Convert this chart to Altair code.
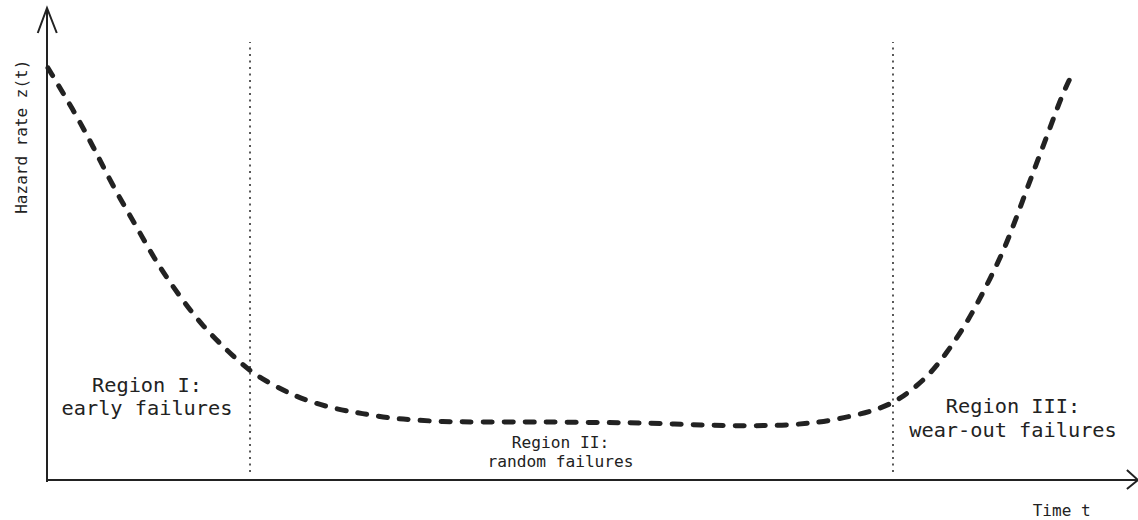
import altair as alt
import pandas as pd

# Bathtub curve: time t (0-100) vs hazard rate z(t) (0-100)
curve_t = [0.09, 2.42, 4.26, 6.07, 8.24, 10.08, 12.22, 14.34, 16.52, 18.66, 20.77,
           22.61, 24.45, 26.63, 28.46, 30.30, 32.14, 33.98, 36.12, 39.80, 43.75, 47.43,
           51.75, 54.50, 58.46, 62.13, 66.15, 68.29, 70.13, 71.97, 74.08, 75.92, 77.76,
           79.32, 81.16, 82.69, 84.19, 85.45, 86.67, 87.87, 88.79, 89.71, 90.63, 91.54,
           92.46, 93.38, 94.27]
curve_z = [87.29, 78.39, 70.61, 62.14, 53.66, 45.97, 38.83, 32.48, 27.54, 22.94, 20.13,
           18.01, 16.38, 15.04, 14.26, 13.56, 12.99, 12.71, 12.35, 12.29, 12.29, 12.29,
           12.14, 12.14, 11.80, 11.50, 11.50, 11.65, 12.08, 12.56, 13.62, 14.62, 16.31,
           18.71, 22.40, 26.91, 32.00, 37.08, 42.60, 48.30, 53.67, 59.40, 65.10, 70.61,
           76.27, 81.99, 86.20]

# Region boundaries (dotted verticals)
boundary_t = [18.66, 77.76]
boundary_z_low = [1.69, 1.69]
boundary_z_high = [92.8, 92.8]

# Axis lines with arrow heads
yaxis_t = [0.0, 0.0]
yaxis_z = [-0.4, 100.0]
xaxis_t = [0.0, 100.28]
xaxis_z = [0.0, 0.0]
yarrow_t = [-0.85, 0.0, 0.9]
yarrow_z = [94.7, 100.0, 94.7]
xarrow_t = [99.26, 100.28, 99.26]
xarrow_z = [2.12, 0.0, -1.9]

# Region labels
big_text = ["Region I:", "early failures", "Region III:", "wear-out failures"]
big_t = [9.19, 9.19, 88.79, 88.79]
big_z = [18.7, 13.77, 14.13, 9.05]
small_text = ["Region II:", "random failures"]
small_t = [47.2, 47.2]
small_z = [6.72, 2.82]

FONT = "DejaVu Sans Mono"
INK = "#222222"

xs = alt.Scale(domain=[-4.32, 100.28], nice=False, zero=False)
ys = alt.Scale(domain=[-8.47, 101.69], nice=False, zero=False)

X = alt.X("t:Q", scale=xs, axis=None)
Y = alt.Y("z:Q", scale=ys, axis=None)

curve_df = pd.DataFrame({"t": curve_t, "z": curve_z, "o": list(range(len(curve_t)))})
curve = alt.Chart(curve_df).mark_line(
    color=INK, strokeWidth=5, strokeDash=[9, 12], strokeCap="round",
    interpolate="basis"
).encode(x=X, y=Y, order="o:Q")

bound_df = pd.DataFrame({"t": boundary_t, "z": boundary_z_low, "z2": boundary_z_high})
bounds = alt.Chart(bound_df).mark_rule(
    color=INK, strokeWidth=1.5, strokeDash=[2, 4.5]
).encode(x=X, y=Y, y2="z2:Q")


def seg(ts, zs):
    df = pd.DataFrame({"t": ts, "z": zs, "o": list(range(len(ts)))})
    return alt.Chart(df).mark_line(color=INK, strokeWidth=2).encode(x=X, y=Y, order="o:Q")


axes = [seg(yaxis_t, yaxis_z), seg(xaxis_t, xaxis_z), seg(yarrow_t, yarrow_z), seg(xarrow_t, xarrow_z)]


def texts(tx, ts, zs, size, angle=0):
    df = pd.DataFrame({"text": tx, "t": ts, "z": zs})
    return alt.Chart(df).mark_text(
        font=FONT, color=INK, fontSize=size, align="center", baseline="alphabetic", angle=angle
    ).encode(x=X, y=Y, text="text:N")


big = texts(big_text, big_t, big_z, 20.3)
small = texts(small_text, small_t, small_z, 16.2)
xtitle = texts(["Time t"], [93.26], [-7.56], 16)
ytitle = texts(["Hazard rate z(t)"], [-1.84], [72.73], 16, angle=270)

chart = alt.layer(bounds, *axes, curve, big, small, xtitle, ytitle).properties(
    width=1138, height=520, padding=0, autosize=alt.AutoSizeParams(type="none"),
    background="white"
).configure_view(stroke=None)

chart.save("out.html", embed_options={"renderer": "svg", "actions": False})
